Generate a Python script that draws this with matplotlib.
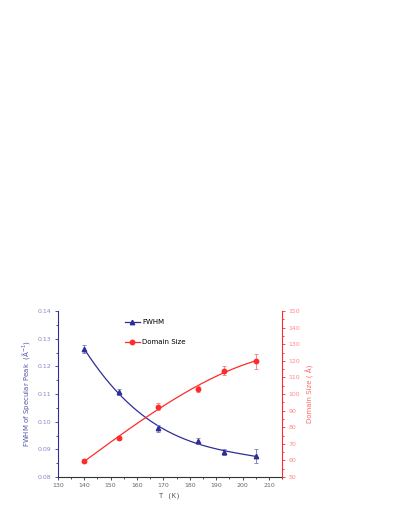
import numpy as np
import matplotlib
matplotlib.use("Agg")
import matplotlib.pyplot as plt
from matplotlib.ticker import MultipleLocator, FormatStrFormatter

# data
temp = [140, 153, 168, 183, 193, 205]
fwhm = [0.1262, 0.1108, 0.0976, 0.0929, 0.0891, 0.0875]
fwhm_err = [0.0015, 0.0011, 0.0013, 0.0011, 0.0012, 0.0025]
domain = [59.6, 73.6, 92.4, 103.0, 114.2, 119.8]
domain_err = [1.4, 1.3, 2.2, 1.8, 3.0, 4.5]

blue = '#2e2e96'
red = '#ff2a2a'

plt.rcParams['font.family'] = 'DejaVu Sans'
fig = plt.figure(figsize=(3.99, 5.16), dpi=100)
ax = fig.add_axes([0.145, 0.0756, 0.562, 0.3214])
ax2 = ax.twinx()

# smooth fitted lines
xs = np.linspace(temp[0], temp[-1], 300)
ax.plot(xs, np.polyval(np.polyfit(temp, fwhm, 3), xs), color=blue, lw=0.9)
ax2.plot(xs, np.polyval(np.polyfit(temp, domain, 3), xs), color=red, lw=0.9)

ax.errorbar(temp, fwhm, yerr=fwhm_err, fmt='^', color=blue, ms=3.2,
            elinewidth=0.6, capsize=1.5, capthick=0.6, ecolor='#7777bb')
ax2.errorbar(temp, domain, yerr=domain_err, fmt='o', color=red, ms=3.2,
             elinewidth=0.6, capsize=1.5, capthick=0.6, ecolor='#ff7777')

ax.set_xlim(130, 215)
ax.set_ylim(0.08, 0.14)
ax2.set_ylim(50, 150)
ax.xaxis.set_major_locator(MultipleLocator(10))
ax.xaxis.set_minor_locator(MultipleLocator(5))
ax.yaxis.set_major_locator(MultipleLocator(0.01))
ax.yaxis.set_minor_locator(MultipleLocator(0.005))
ax2.yaxis.set_major_locator(MultipleLocator(10))
ax2.yaxis.set_minor_locator(MultipleLocator(5))
ax.yaxis.set_major_formatter(FormatStrFormatter('%.2f'))

for a in (ax, ax2):
    a.spines['top'].set_visible(False)
ax.spines['left'].set_color(blue)
ax.spines['right'].set_visible(False)
ax2.spines['left'].set_visible(False)
ax2.spines['bottom'].set_visible(False)
ax2.spines['right'].set_color(red)
ax.spines['bottom'].set_color('#333333')

ax.tick_params(axis='x', which='both', direction='out', labelsize=4.5,
               colors='#333333', labelcolor='#666666', length=2.5, width=0.6, pad=2)
ax.tick_params(axis='x', which='minor', length=1.5)
ax.tick_params(axis='y', which='both', direction='out', labelsize=4.5,
               colors=blue, labelcolor='#8888cc', length=2.5, width=0.6, pad=2)
ax.tick_params(axis='y', which='minor', length=1.5)
ax2.tick_params(axis='y', which='both', direction='out', labelsize=4.5,
                colors=red, labelcolor='#ff8888', length=2.5, width=0.6, pad=2)
ax2.tick_params(axis='y', which='minor', length=1.5)

ax.set_xlabel('T (K)', fontsize=5, color='#555555', family='DejaVu Sans Mono', labelpad=3)
ax.set_ylabel('FWHM of Specular Peak  (Å$^{-1}$)', fontsize=5, color='#5555aa', labelpad=4)
ax2.set_ylabel('Domain Size ( Å)', fontsize=5, color='#ff6666', labelpad=4)

h1 = ax.plot([], [], '-^', color=blue, ms=3.2, lw=0.9)[0]
h2 = ax.plot([], [], '-o', color=red, ms=3.2, lw=0.9)[0]
ax.legend([h1, h2], ['FWHM', 'Domain Size'], loc='upper left',
          bbox_to_anchor=(0.27, 0.99), frameon=False, fontsize=5,
          handlelength=2.2, labelspacing=2.0, handletextpad=0.3)

fig.savefig('out.png', dpi=100)
